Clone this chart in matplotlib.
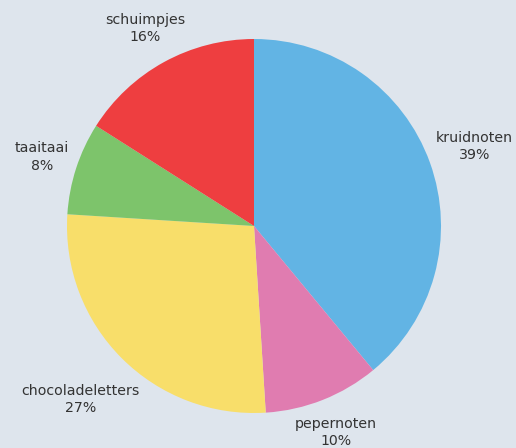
import numpy as np
import matplotlib
matplotlib.use("Agg")
import matplotlib.pyplot as plt

categories = ["kruidnoten", "pepernoten", "chocoladeletters", "taaitaai", "schuimpjes"]
values = [39, 10, 27, 8, 16]
colors = ["#62b4e4", "#e07cb0", "#f8de6a", "#7dc46b", "#ee3e40"]
bg = "#dee5ed"

W, H = 516, 448
fig = plt.figure(figsize=(W / 100, H / 100), dpi=100, facecolor=bg)
cx, cy, r = 254, H - 226, 187
ax = fig.add_axes([(cx - r) / W, (cy - r) / H, 2 * r / W, 2 * r / H])
ax.set_facecolor(bg)
wedges, _ = ax.pie(values, colors=colors, startangle=90, counterclock=False,
                   radius=1.0, wedgeprops=dict(linewidth=0))
ax.set_xlim(-1, 1)
ax.set_ylim(-1, 1)
ax.set_aspect("equal")
ax.axis("off")

total = sum(values)
fig.canvas.draw()
renderer = fig.canvas.get_renderer()
R0 = 1.03
for w, cat, v in zip(wedges, categories, values):
    th = np.deg2rad((w.theta1 + w.theta2) / 2)
    t = ax.text(0, 0, f"{cat}\n{round(100 * v / total)}%", ha="center", va="center",
                fontsize=10.2, color="#333333", family="DejaVu Sans", linespacing=1.3,
                clip_on=False)
    bb = t.get_window_extent(renderer)
    hw = bb.width / 2 / r
    hh = bb.height / 2 / r
    d = R0 + hw * abs(np.cos(th)) + hh * abs(np.sin(th))
    t.set_position((d * np.cos(th), d * np.sin(th)))

fig.savefig("out.png", dpi=100, facecolor=bg)
